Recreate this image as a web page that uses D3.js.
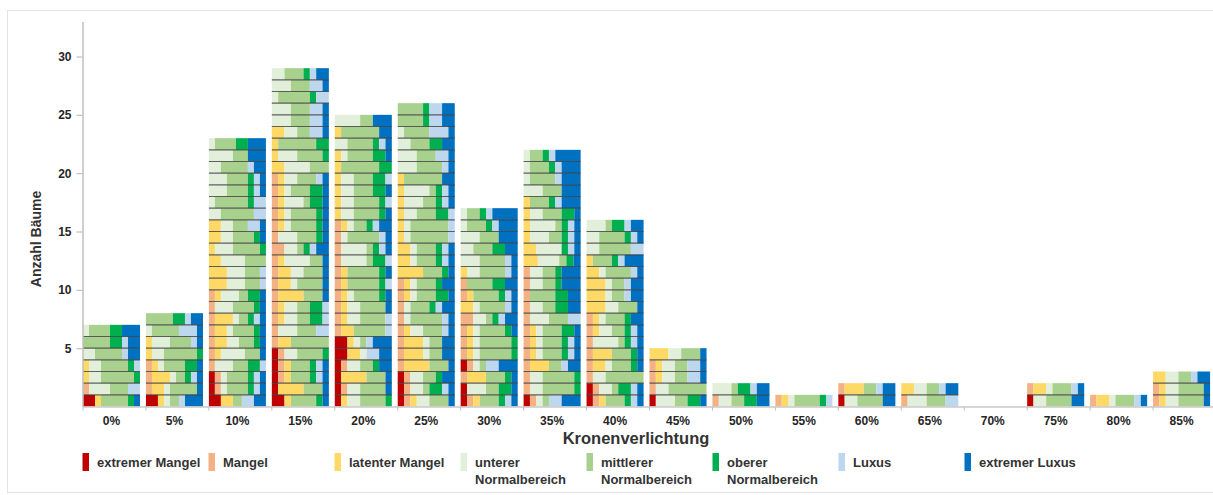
<!DOCTYPE html>
<html><head><meta charset="utf-8">
<script src="https://cdn.jsdelivr.net/npm/d3@7"></script>
<style>body{margin:0;background:#fff}svg{display:block;font-family:"Liberation Sans",Arial,sans-serif}</style>
</head><body><svg id="chart" width="1213" height="495"></svg>
<script>
const categories = ["0%","5%","10%","15%","20%","25%","30%","35%","40%","45%","50%","55%","60%","65%","70%","75%","80%","85%"];
const classNames = ["extremer Mangel","Mangel","latenter Mangel","unterer Normalbereich","mittlerer Normalbereich","oberer Normalbereich","Luxus","extremer Luxus"];
const legendLines = [["extremer Mangel"],["Mangel"],["latenter Mangel"],["unterer","Normalbereich"],["mittlerer","Normalbereich"],["oberer","Normalbereich"],["Luxus"],["extremer Luxus"]];
const classColors = ["#C00000","#F4B183","#FFD966","#E2EFDA","#A9D18E","#00B050","#BDD7EE","#0070C0"];
const yTicks = [5,10,15,20,25,30];
const xTitle = "Kronenverlichtung";
const yTitle = "Anzahl Bäume";

// each tree (row, bottom to top): number of nutrients per class
const c0 = [[4,0,2,0,9,2,0,2],[0,2,0,7,6,0,4,0],[0,0,2,4,11,2,0,0],[0,0,2,4,9,2,2,0],[0,0,0,4,9,0,2,4],[0,0,0,0,9,4,2,4],[0,0,0,2,7,4,0,6]];
const c5 = [[4,0,2,2,3,0,2,6],[0,2,4,2,9,0,0,2],[0,2,6,2,3,2,2,2],[0,2,2,2,7,4,0,2],[0,0,2,4,11,2,0,0],[0,0,2,6,7,0,2,2],[0,0,0,2,9,0,6,2],[0,0,0,0,9,4,2,4]];
const c10 = [[4,0,4,0,3,0,4,4],[2,2,0,2,7,2,2,2],[2,2,0,2,7,2,2,2],[0,2,0,6,5,4,2,0],[0,2,2,8,5,0,0,2],[0,2,4,4,5,2,0,2],[0,2,4,2,7,2,0,2],[0,2,6,2,3,2,2,2],[0,2,0,6,7,2,0,2],[0,2,2,6,3,4,0,2],[0,0,6,6,5,0,2,0],[0,0,6,6,5,0,2,0],[0,0,4,8,7,0,0,0],[0,0,2,6,9,2,0,0],[0,0,4,4,7,2,0,2],[0,0,4,4,5,0,4,2],[0,0,0,4,11,0,4,0],[0,0,0,2,11,2,4,0],[0,0,0,6,7,2,2,2],[0,0,0,6,7,2,2,2],[0,0,0,4,9,0,2,4],[0,0,0,8,5,0,0,6],[0,0,0,2,7,4,0,6]];
const c15 = [[4,0,2,0,8,2,0,2],[2,0,8,0,6,0,0,2],[2,2,2,0,6,2,2,2],[2,2,2,0,6,2,2,2],[2,2,0,4,8,2,0,0],[0,2,4,0,12,0,0,0],[0,2,0,6,6,0,4,0],[0,2,2,4,4,4,2,0],[0,2,2,4,4,4,2,0],[0,2,8,0,6,0,0,2],[0,2,4,2,8,0,0,2],[0,2,4,4,6,0,0,2],[0,2,2,8,4,0,0,2],[0,4,0,4,2,2,2,4],[0,2,0,6,6,2,0,2],[0,2,2,2,8,2,0,2],[0,2,2,2,8,2,0,2],[0,2,2,6,2,4,0,2],[0,2,2,2,6,4,0,2],[0,2,2,4,6,0,2,2],[0,0,4,8,6,0,0,0],[0,0,2,6,8,2,0,0],[0,0,2,0,12,4,0,0],[0,0,4,4,4,0,4,2],[0,0,0,6,6,0,4,2],[0,0,0,6,6,0,4,2],[0,0,0,2,10,2,4,0],[0,0,0,6,6,0,4,2],[0,0,0,4,6,2,2,4]];
const c20 = [[2,0,2,4,8,2,0,0],[2,2,0,4,8,0,0,2],[2,0,8,0,6,0,0,2],[2,2,0,4,4,2,0,4],[4,0,4,2,0,0,4,4],[4,0,2,2,2,0,2,6],[0,2,4,0,10,0,2,0],[0,2,2,4,8,0,2,0],[0,2,2,4,8,0,0,2],[0,2,2,2,8,2,0,2],[0,2,2,0,10,2,2,0],[0,2,2,0,10,2,0,2],[0,2,0,8,2,4,2,0],[0,2,0,8,2,2,2,2],[0,2,0,2,10,0,2,2],[0,2,2,2,4,2,2,4],[0,0,2,4,8,2,0,2],[0,0,2,4,8,2,2,0],[0,0,2,4,6,4,0,2],[0,0,2,4,6,4,2,0],[0,0,2,0,12,4,0,0],[0,0,2,2,8,4,0,2],[0,0,0,4,8,2,2,2],[0,0,2,0,12,0,0,4],[0,0,0,8,4,0,0,6]];
const c25 = [[2,2,2,4,6,0,0,2],[2,2,0,4,2,4,2,2],[2,2,0,4,4,2,0,4],[0,2,8,0,6,0,0,2],[0,2,6,2,4,0,0,4],[0,2,6,2,4,0,0,4],[0,2,2,4,6,0,2,2],[0,2,0,2,10,0,2,2],[0,2,0,2,6,2,2,4],[0,2,2,2,6,4,0,2],[0,2,2,2,6,2,0,4],[0,0,8,0,6,2,0,2],[0,0,4,2,6,2,2,2],[0,0,4,2,6,2,2,2],[0,0,2,2,12,0,2,0],[0,0,2,2,12,0,2,0],[0,0,2,4,6,4,2,0],[0,0,2,6,4,2,2,2],[0,0,2,8,2,2,2,2],[0,0,2,0,12,0,0,4],[0,0,0,6,8,0,2,2],[0,0,0,6,6,0,4,2],[0,0,0,4,6,4,0,4],[0,0,0,2,8,0,6,2],[0,0,0,0,8,2,4,4],[0,0,0,0,8,2,4,4]];
const c30 = [[2,2,2,0,6,2,2,2],[2,0,0,6,4,4,0,2],[0,2,6,0,6,2,0,2],[2,2,0,2,2,0,4,6],[0,2,2,2,10,2,0,0],[0,2,2,2,10,2,0,0],[0,2,2,2,8,2,0,2],[0,4,0,4,2,2,2,4],[0,0,4,2,8,0,2,2],[0,2,2,0,8,2,2,2],[0,2,0,0,8,4,0,4],[0,0,2,4,8,0,2,2],[0,0,0,6,8,0,2,2],[0,0,0,4,6,4,0,4],[0,0,0,6,6,0,0,6],[0,0,0,2,6,2,2,6],[0,0,0,2,4,2,2,8]];
const c35 = [[2,2,0,2,2,0,4,6],[0,2,0,4,10,2,0,0],[0,2,0,4,10,2,0,0],[0,2,6,0,4,0,2,4],[0,2,2,2,6,2,2,2],[0,2,2,2,6,2,2,2],[0,2,2,2,6,4,0,2],[0,2,0,6,6,0,4,0],[0,2,0,4,4,4,0,4],[0,2,0,0,8,4,0,4],[0,2,0,4,4,2,0,6],[0,2,0,4,4,2,0,6],[0,0,4,6,2,2,0,2],[0,0,4,8,0,2,2,2],[0,0,2,6,4,2,2,2],[0,0,2,8,2,2,2,2],[0,0,2,4,6,4,0,2],[0,0,2,0,6,2,2,6],[0,0,0,6,6,0,0,6],[0,0,0,2,8,0,2,6],[0,0,0,2,6,2,2,6],[0,0,0,2,4,2,2,8]];
const c40 = [[2,2,2,0,6,2,2,2],[2,2,0,4,2,4,2,2],[0,2,0,4,12,0,0,0],[0,2,4,2,6,2,0,2],[0,2,6,0,6,2,0,2],[0,2,0,8,2,2,2,2],[0,2,2,4,4,2,2,2],[0,2,2,2,6,2,0,4],[0,0,6,4,6,0,0,2],[0,0,6,2,4,0,2,4],[0,0,6,2,4,0,2,4],[0,0,4,2,8,0,2,2],[0,0,2,0,6,2,2,6],[0,0,0,4,10,0,4,0],[0,0,0,4,8,2,2,2],[0,0,0,6,2,4,2,4]];
const c45 = [[2,0,0,6,4,4,0,2],[0,2,0,4,12,0,0,0],[0,2,2,4,4,0,4,2],[0,2,2,4,4,0,4,2],[0,0,6,4,6,0,0,2]];
const c50 = [[0,2,0,4,4,4,0,4],[0,0,0,6,2,4,2,4]];
const c55 = [[0,2,2,2,8,2,2,0]];
const c60 = [[2,0,0,4,8,0,0,4],[0,2,6,0,4,0,2,4]];
const c65 = [[0,2,0,6,6,0,4,0],[0,0,4,4,4,0,2,4]];
const c70 = [];
const c75 = [[2,0,0,4,8,0,0,4],[0,2,4,2,6,0,2,2]];
const c80 = [[0,2,4,2,6,0,2,2]];
const c85 = [[0,2,2,4,8,0,0,2],[0,2,2,4,8,0,0,2],[0,0,4,4,4,0,2,4]];
const treesByCategory = [c0,c5,c10,c15,c20,c25,c30,c35,c40,c45,c50,c55,c60,c65,c70,c75,c80,c85];

const svg = d3.select("#chart");
svg.append("rect").attr("x",7.5).attr("y",10.5).attr("width",1210).attr("height",482)
  .attr("fill","#fff").attr("stroke","#e3e3e3");

const x = d3.scaleBand().domain(categories).range([83, 1216]).paddingInner(0).paddingOuter(0);
const barW = x.bandwidth() * 0.906;
const y = d3.scaleLinear().domain([0, 33]).range([406.5, 21.5]);

const keys = d3.range(classNames.length);
const stack = d3.stack().keys(keys).value((d, k) => d[k]).offset(d3.stackOffsetExpand);

categories.forEach((cat, ci) => {
  const rows = treesByCategory[ci];
  if (!rows.length) return;
  const inner = d3.scaleLinear().domain([0, 1]).range([x(cat), x(cat) + barW]);
  const series = stack(rows);
  const g = svg.append("g");
  series.forEach((s, k) => {
    g.selectAll(null).data(s).join("rect")
      .attr("x", d => inner(d[0]))
      .attr("width", d => inner(d[1]) - inner(d[0]))
      .attr("y", (d, i) => y(i + 1))
      .attr("height", (d, i) => y(i) - y(i + 1))
      .attr("fill", classColors[k]);
  });
  g.selectAll(null).data(d3.range(1, rows.length)).join("line")
    .attr("x1", x(cat)).attr("x2", x(cat) + barW)
    .attr("y1", d => y(d)).attr("y2", d => y(d))
    .attr("stroke", "#3c3c3c").attr("stroke-width", 1.1).attr("stroke-opacity", 0.8);
});

// y axis
const yAxis = svg.append("g").attr("transform", "translate(82.5,0)")
  .call(d3.axisLeft(y).tickValues(yTicks).tickSize(6).tickSizeOuter(0).tickPadding(5));
yAxis.select(".domain").attr("stroke", "#bfbfbf").attr("stroke-width", 1.5);
yAxis.selectAll(".tick line").attr("stroke", "#bfbfbf").attr("stroke-width", 1.2);
yAxis.selectAll(".tick text").attr("font-size", 12).attr("font-weight", "bold").attr("fill", "#262626")
  .attr("font-family", "Liberation Sans, Arial, sans-serif");

// x axis
const xAxis = svg.append("g").attr("transform", "translate(0,406.5)")
  .call(d3.axisBottom(x).tickSize(4).tickSizeOuter(0).tickPadding(6));
xAxis.select(".domain").attr("stroke", "#c8c8c8").attr("stroke-width", 1.5);
xAxis.selectAll(".tick line").attr("stroke", "#bfbfbf").attr("x1", -x.bandwidth()/2).attr("x2", -x.bandwidth()/2);
xAxis.selectAll(".tick text").attr("x", barW/2 - x.bandwidth()/2)
  .attr("font-size", 12).attr("font-weight", "bold").attr("fill", "#262626")
  .attr("font-family", "Liberation Sans, Arial, sans-serif");

// titles
svg.append("text").attr("x", 636).attr("y", 444).attr("text-anchor", "middle")
  .attr("font-size", 16.5).attr("font-weight", "bold").attr("fill", "#333").text(xTitle);
svg.append("text").attr("transform", "translate(41,239) rotate(-90)").attr("text-anchor", "middle")
  .attr("font-size", 14).attr("font-weight", "bold").attr("fill", "#333").text(yTitle);

// legend
const lg = svg.append("g").selectAll("g").data(classNames).join("g")
  .attr("transform", (d, i) => `translate(${82.5 + i * 126},0)`);
lg.append("rect").attr("x", 0).attr("y", 453).attr("width", 6.5).attr("height", 18)
  .attr("fill", (d, i) => classColors[i]);
lg.append("text").attr("x", 14.5).attr("y", 466.5).attr("font-size", 13).attr("font-weight", "bold").attr("fill", "#333")
  .selectAll("tspan").data((d, i) => legendLines[i]).join("tspan")
  .attr("x", 14.5).attr("dy", (d, j) => j ? 17 : 0).text(d => d);
</script></body></html>
